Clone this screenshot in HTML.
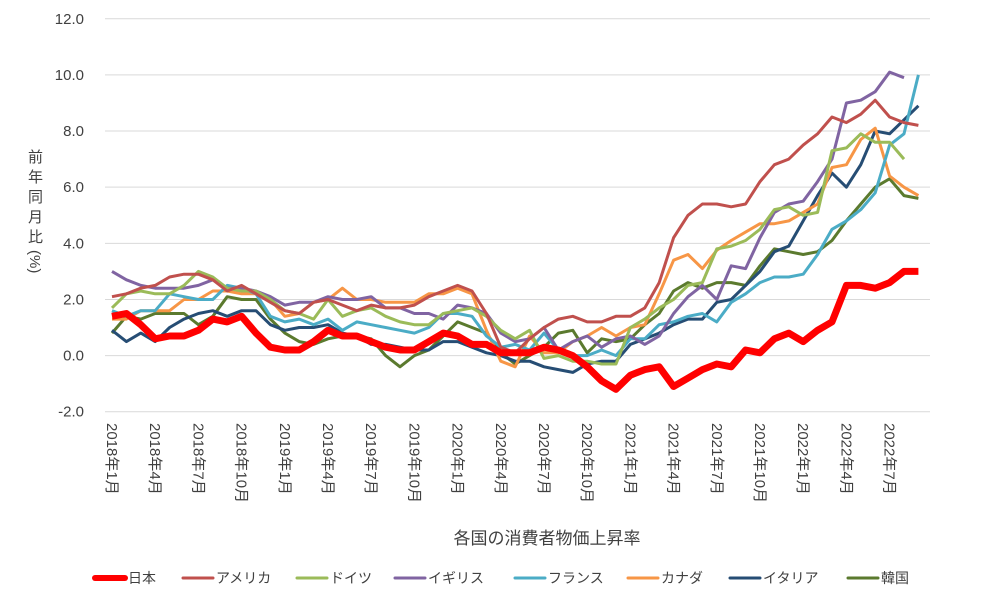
<!DOCTYPE html>
<html><head><meta charset="utf-8"><style>
body{margin:0;background:#fff;font-family:"Liberation Sans","Noto Sans CJK JP",sans-serif;}
svg{display:block}
text{font-family:"Liberation Sans","Noto Sans CJK JP",sans-serif;fill:#404040}
</style></head><body>
<svg id="c" width="1000" height="608" viewBox="0 0 1000 608" xmlns="http://www.w3.org/2000/svg">
<rect width="1000" height="608" fill="#fff"/>
<g id="grid"></g>
<g id="lines" fill="none" stroke-linejoin="round"></g>
<g id="xl" font-size="15"></g>
<text x="547" y="544" font-size="17" text-anchor="middle" fill="#404040">各国の消費者物価上昇率</text>
<text font-size="15" fill="#404040"><tspan x="28" y="162">前</tspan><tspan x="28" y="182">年</tspan><tspan x="28" y="202">同</tspan><tspan x="28" y="222">月</tspan><tspan x="28" y="242">比</tspan></text>
<text font-size="15" transform="translate(30,250) rotate(90)" fill="#404040">(%)</text>
<g id="leg" font-size="14"></g>
</svg>
<script>
const y0=355.6,k=28.07,x0=112,dx=14.4;
const Y=v=>y0-v*k, X=i=>x0+i*dx;
let g='';
for(let v=-2;v<=12;v+=2){g+=`<line x1="105" x2="930" y1="${Y(v)}" y2="${Y(v)}" stroke="#d9d9d9" stroke-width="1"/>`;
g+=`<text x="84" y="${Y(v)+5}" font-size="15" text-anchor="end">${v.toFixed(1)}</text>`;}
document.getElementById('grid').innerHTML=g;
const D={
US:[2.1,2.2,2.4,2.5,2.8,2.9,2.9,2.7,2.3,2.5,2.2,1.9,1.6,1.5,1.9,2.0,1.8,1.6,1.8,1.7,1.7,1.8,2.1,2.3,2.5,2.3,1.5,0.3,0.1,0.6,1.0,1.3,1.4,1.2,1.2,1.4,1.4,1.7,2.6,4.2,5.0,5.4,5.4,5.3,5.4,6.2,6.8,7.0,7.5,7.9,8.5,8.3,8.6,9.1,8.5,8.3,8.2],
DE:[1.7,2.2,2.3,2.2,2.2,2.5,3.0,2.8,2.4,2.3,2.3,2.0,1.6,1.5,1.3,2.0,1.4,1.6,1.7,1.4,1.2,1.1,1.1,1.5,1.6,1.7,1.4,0.9,0.6,0.9,-0.1,0.0,-0.2,-0.2,-0.3,-0.3,1.0,1.3,1.7,2.0,2.5,2.6,3.8,3.9,4.1,4.5,5.2,5.3,5.0,5.1,7.3,7.4,7.9,7.6,7.6,7.0],
UK:[3.0,2.7,2.5,2.4,2.4,2.4,2.5,2.7,2.4,2.4,2.3,2.1,1.8,1.9,1.9,2.1,2.0,2.0,2.1,1.7,1.7,1.5,1.5,1.3,1.8,1.7,1.5,0.8,0.5,0.6,1.0,0.2,0.5,0.7,0.3,0.6,0.7,0.4,0.7,1.5,2.1,2.5,2.0,3.2,3.1,4.2,5.1,5.4,5.5,6.2,7.0,9.0,9.1,9.4,10.1,9.9],
FR:[1.6,1.4,1.6,1.6,2.2,2.1,2.0,2.0,2.5,2.4,2.2,1.4,1.2,1.3,1.1,1.3,0.9,1.2,1.1,1.0,0.9,0.8,1.0,1.5,1.5,1.4,0.7,0.3,0.4,0.2,0.8,0.2,0.0,0.0,0.2,0.0,0.6,0.6,1.1,1.2,1.4,1.5,1.2,1.9,2.2,2.6,2.8,2.8,2.9,3.6,4.5,4.8,5.2,5.8,7.5,7.9,10.0],
CA:[1.3,1.3,1.6,1.6,1.6,2.0,2.0,2.3,2.3,2.2,2.2,2.0,1.4,1.5,1.9,2.0,2.4,2.0,2.0,1.9,1.9,1.9,2.2,2.2,2.4,2.2,0.9,-0.2,-0.4,0.7,0.1,0.1,0.5,0.7,1.0,0.7,1.0,1.1,2.2,3.4,3.6,3.1,3.75,4.1,4.4,4.7,4.7,4.8,5.1,5.4,6.7,6.8,7.7,8.1,6.4,6.0,5.7],
IT:[0.9,0.5,0.8,0.5,1.0,1.3,1.5,1.6,1.4,1.6,1.6,1.1,0.9,1.0,1.0,1.1,0.8,0.7,0.4,0.4,0.3,0.2,0.2,0.5,0.5,0.3,0.1,0.0,-0.2,-0.2,-0.4,-0.5,-0.6,-0.3,-0.2,-0.2,0.4,0.6,0.8,1.1,1.3,1.3,1.9,2.0,2.5,3.0,3.7,3.9,4.8,5.7,6.5,6.0,6.8,8.0,7.9,8.4,8.9],
KR:[0.8,1.4,1.3,1.5,1.5,1.5,1.1,1.4,2.1,2.0,2.0,1.3,0.8,0.5,0.4,0.6,0.7,0.7,0.6,0.0,-0.4,0.0,0.2,0.7,1.2,1.0,0.8,0.1,-0.3,0.0,0.3,0.8,0.9,0.1,0.6,0.5,0.6,1.1,1.5,2.3,2.6,2.4,2.6,2.6,2.5,3.2,3.8,3.7,3.6,3.7,4.1,4.8,5.4,6.0,6.3,5.7,5.6],
JP:[1.4,1.5,1.1,0.6,0.7,0.7,0.9,1.3,1.2,1.4,0.8,0.3,0.2,0.2,0.5,0.9,0.7,0.7,0.5,0.3,0.2,0.2,0.5,0.8,0.7,0.4,0.4,0.1,0.1,0.1,0.3,0.2,0.0,-0.4,-0.9,-1.2,-0.7,-0.5,-0.4,-1.1,-0.8,-0.5,-0.3,-0.4,0.2,0.1,0.6,0.8,0.5,0.9,1.2,2.5,2.5,2.4,2.6,3.0,3.0]};
const S=[['KR','#5b7a2e',3],['IT','#264d74',3],['CA','#f79646',3],['FR','#4bacc6',3],['UK','#8064a2',3],['DE','#9bbb59',3],['US','#c0504d',3],['JP','#ff0000',7]];
let l='';
S.forEach(([n,c,w])=>{l+=`<polyline stroke="${c}" stroke-width="${w}" points="${D[n].map((v,i)=>X(i).toFixed(1)+','+Y(v).toFixed(1)).join(' ')}"/>`;});
document.getElementById('lines').innerHTML=l;
let xl='';
for(let i=0;i<57;i+=3){const yr=2018+Math.floor(i/12),m=i%12+1;
xl+=`<text transform="translate(${X(i)-5},423) rotate(90)">${yr}年${m}月</text>`;}
document.getElementById('xl').innerHTML=xl;
const L=[['日本','#ff0000',6,95],['アメリカ','#c0504d',3,183],['ドイツ','#9bbb59',3,297],['イギリス','#8064a2',3,395],['フランス','#4bacc6',3,515],['カナダ','#f79646',3,628],['イタリア','#264d74',3,730],['韓国','#5b7a2e',3,848]];
let lg='';
L.forEach(([t,c,w,x])=>{lg+=`<line x1="${x}" x2="${x+30}" y1="578" y2="578" stroke="${c}" stroke-width="${w}" stroke-linecap="round"/><text x="${x+33}" y="583">${t}</text>`;});
document.getElementById('leg').innerHTML=lg;
</script>
</body></html>
